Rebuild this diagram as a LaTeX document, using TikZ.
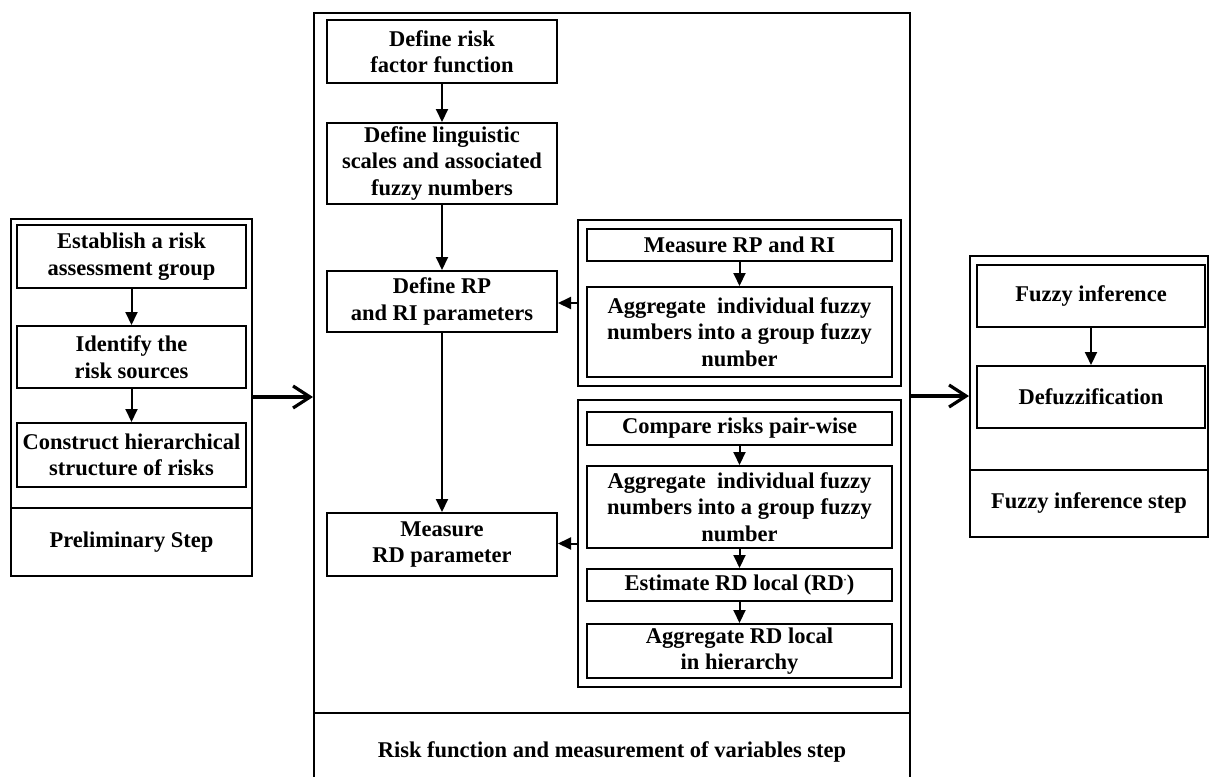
\documentclass[tikz,border=0pt]{standalone}
\usepackage{fontspec}
\setmainfont{Liberation Serif}
\usetikzlibrary{arrows.meta,positioning}

\begin{document}
\begin{tikzpicture}[x=1pt,y=-1pt,
    font=\fontsize{22.5}{26.5}\selectfont\bfseries,
    box/.style={draw,line width=2pt,align=center,inner sep=1pt,minimum width=#1},
    box/.default=229pt,
    frame/.style={draw,line width=2pt,align=center,inner sep=0pt},
    arr/.style={-{Triangle[length=13pt,width=12pt]},line width=2pt},
    bigarr/.style={-{Straight Barb[length=17pt,width=22pt,line width=3.2pt]},line width=3.4pt}]
  \useasboundingbox (0,0) rectangle (1209,776);
  \node[frame,minimum width=241pt,minimum height=289pt] (prelim) at (131.5,363.5) {};
  \node[frame,minimum width=241pt,minimum height=68pt] (prelimlbl) at (131.5,542) {Preliminary Step};
  \node[box,minimum height=63pt] (establish) at (131.5,256.5) {Establish a risk\\assessment group};
  \node[box,minimum height=62pt] (identify) at (131.5,357) {Identify the\\risk sources};
  \node[box,minimum height=64pt] (construct) at (131.5,455) {Construct hierarchical\\structure of risks};
  \draw[arr] (establish) -- (identify); \draw[arr] (identify) -- (construct);

  \node[frame,minimum width=596pt,minimum height=700pt] (riskfn) at (612,363) {};
  \node[frame,minimum width=596pt,minimum height=78pt] (riskfnlbl) at (612,752) {Risk function and measurement of variables step};
  \node[box=230pt,minimum height=63pt] (riskfactor) at (442,51.5) {Define risk\\factor function};
  \node[box=230pt,minimum height=81pt] (linguistic) at (442,163.5) {Define linguistic\\scales and associated\\fuzzy numbers};
  \node[box=230pt,minimum height=61pt] (rpri) at (442,301.5) {Define RP\\and RI parameters};
  \node[box=230pt,minimum height=63pt] (measurerd) at (442,544.5) {Measure\\RD parameter};
  \draw[arr] (riskfactor) -- (linguistic); \draw[arr] (linguistic) -- (rpri); \draw[arr] (rpri) -- (measurerd);

  \node[frame,minimum width=323pt,minimum height=166pt] (dfone) at (739.5,303) {};
  \node[box=305pt,minimum height=32pt] (measurerp) at (739.5,245) {Measure RP and RI};
  \node[box=305pt,minimum height=90pt] (aggrp) at (739.5,332) {Aggregate\ \ individual fuzzy\\numbers into a group fuzzy\\number};
  \draw[arr] (measurerp) -- (aggrp);
  \draw[arr] (dfone.west) -- (dfone.west -| rpri.east);

  \node[frame,minimum width=323pt,minimum height=287pt] (dftwo) at (739.5,543.5) {};
  \node[box=305pt,minimum height=33pt] (compare) at (739.5,428.5) {Compare risks pair-wise};
  \node[box=305pt,minimum height=82pt] (aggrd) at (739.5,507) {Aggregate\ \ individual fuzzy\\numbers into a group fuzzy\\number};
  \node[box=305pt,minimum height=32pt] (estimate) at (739.5,585) {Estimate RD local (RD\textsuperscript{\tiny *})};
  \node[box=305pt,minimum height=54pt] (hierarchy) at (739.5,651) {Aggregate RD local\\in hierarchy};
  \draw[arr] (compare) -- (aggrd); \draw[arr] (aggrd) -- (estimate); \draw[arr] (estimate) -- (hierarchy);
  \draw[arr] (dftwo.west) -- (dftwo.west -| measurerd.east);

  \node[frame,minimum width=238pt,minimum height=214pt] (fuzzyfr) at (1089,363) {};
  \node[frame,minimum width=238pt,minimum height=67pt] (fuzzylbl) at (1089,503.5) {Fuzzy inference step};
  \node[box=228pt,minimum height=62pt] (fuzzyinf) at (1091,296) {Fuzzy inference};
  \node[box=228pt,minimum height=62pt] (defuzz) at (1091,397) {Defuzzification};
  \draw[arr] (fuzzyinf) -- (defuzz);

  \coordinate (lvlone) at (0,397);
  \coordinate (lvltwo) at (0,396);
  \draw[bigarr] (prelim.east |- lvlone) -- (riskfn.west |- lvlone);
  \draw[bigarr] (riskfn.east |- lvltwo) -- (fuzzyfr.west |- lvltwo);
\end{tikzpicture}
\end{document}
